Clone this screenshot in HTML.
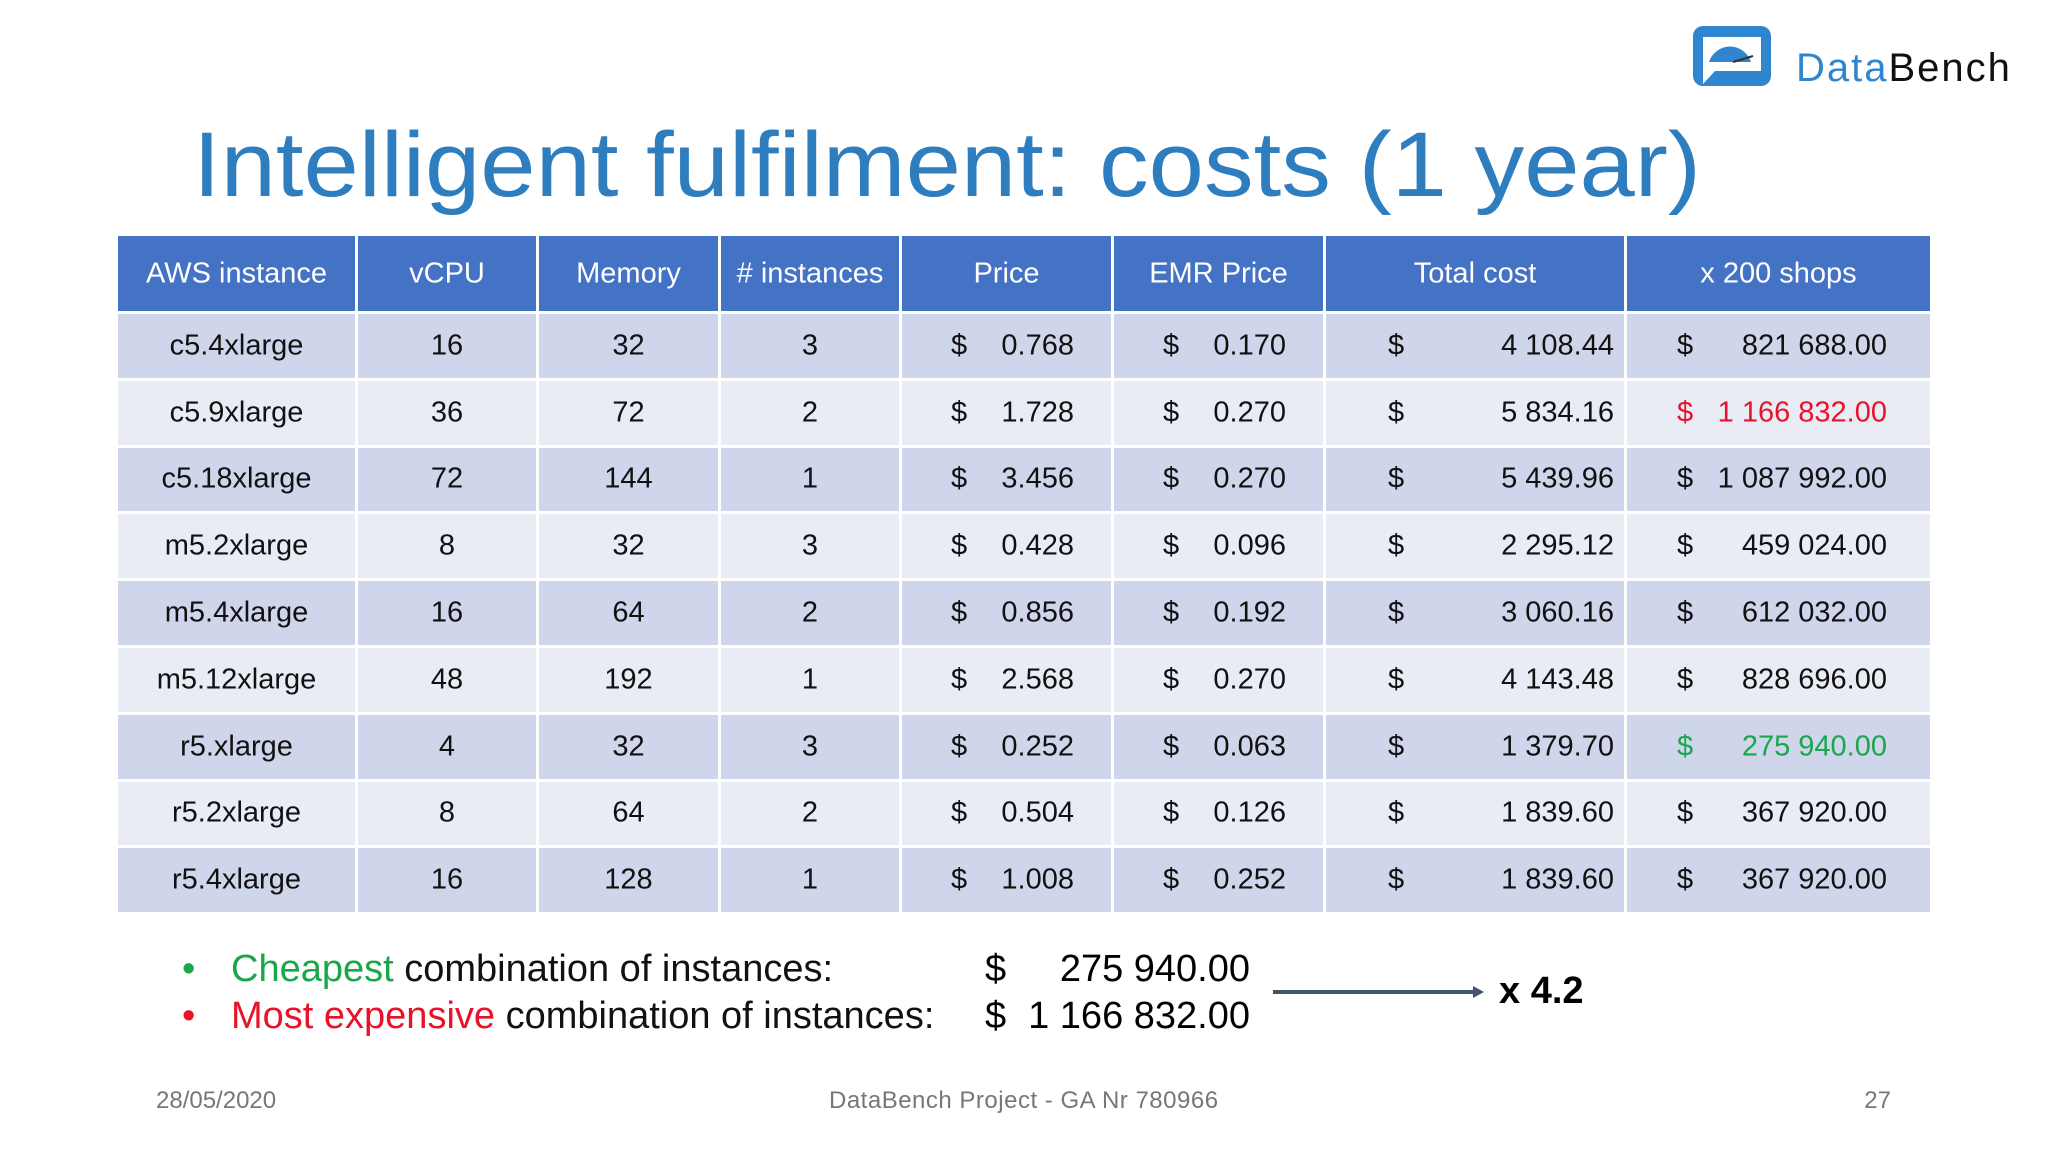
<!DOCTYPE html>
<html><head><meta charset="utf-8">
<style>
body{margin:0;width:2048px;height:1152px;background:#fff;position:relative;overflow:hidden;font-family:"Liberation Sans",sans-serif;}
.abs{position:absolute;white-space:nowrap;}
.cell{position:absolute;box-sizing:border-box;font-size:29px;color:#111;line-height:1;}
.cell span{position:absolute;top:50%;transform:translateY(-50%);}
</style></head>
<body>
<div class="abs" style="left:1693px;top:26px;width:80px;height:60px;">
<svg width="80" height="60" viewBox="0 0 80 60"><rect x="0" y="0" width="78" height="60" rx="10" fill="#2f86cf"/><rect x="10" y="11" width="58" height="34" fill="#fff"/><path d="M16 36 A22 22 0 0 1 58 36 Z" fill="#2f86cf"/><line x1="40" y1="36" x2="60" y2="30" stroke="#333" stroke-width="2"/><path d="M10 45 L10 58 L22 45 Z" fill="#fff"/></svg>
</div>
<div class="abs" style="left:1796px;top:46px;font-size:40px;letter-spacing:2px;"><span style="color:#2f86cf">Data</span><span style="color:#111">Bench</span></div>
<svg class="abs" style="left:0;top:0" width="2048" height="230"><text x="193" y="196" font-family="Liberation Sans, sans-serif" font-size="92" fill="#2e7dbf" textLength="1508" lengthAdjust="spacingAndGlyphs">Intelligent fulfilment: costs (1 year)</text></svg>
<div id="table"></div>
<div class="abs" style="left:182px;top:948px;font-size:38px;color:#111;"><span style="color:#1aa64a">•</span><span style="position:absolute;left:49px;"><span style="color:#1aa64a">Cheapest</span> combination of instances:</span></div>
<div class="abs" style="left:182px;top:995px;font-size:38px;color:#111;"><span style="color:#e8132a">•</span><span style="position:absolute;left:49px;"><span style="color:#e8132a">Most expensive</span> combination of instances:</span></div>
<div class="abs" style="left:985px;top:948px;font-size:38px;">$</div>
<div class="abs" style="right:798px;top:948px;font-size:38px;">275 940.00</div>
<div class="abs" style="left:985px;top:995px;font-size:38px;">$</div>
<div class="abs" style="right:798px;top:995px;font-size:38px;">1 166 832.00</div>
<svg class="abs" style="left:1270px;top:980px" width="220" height="24"><line x1="3" y1="12" x2="205" y2="12" stroke="#44546a" stroke-width="4"/><path d="M203 6 L214 12 L203 18 Z" fill="#44546a"/></svg>
<div class="abs" style="left:1499px;top:970px;font-size:38px;font-weight:bold;">x 4.2</div>
<div class="abs" style="left:156px;top:1087px;font-size:24px;color:#777;">28/05/2020</div>
<div class="abs" style="left:829px;top:1087px;font-size:24px;color:#777;letter-spacing:0.5px;">DataBench Project - GA Nr 780966</div>
<div class="abs" style="right:157px;top:1087px;font-size:24px;color:#777;">27</div>
<script>
const headers=["AWS instance","vCPU","Memory","# instances","Price","EMR Price","Total cost","x 200 shops"];
const instances=["c5.4xlarge","c5.9xlarge","c5.18xlarge","m5.2xlarge","m5.4xlarge","m5.12xlarge","r5.xlarge","r5.2xlarge","r5.4xlarge"];
const vcpu=["16","36","72","8","16","48","4","8","16"];
const memory=["32","72","144","32","64","192","32","64","128"];
const counts=["3","2","1","3","2","1","3","2","1"];
const price=["0.768","1.728","3.456","0.428","0.856","2.568","0.252","0.504","1.008"];
const emr=["0.170","0.270","0.270","0.096","0.192","0.270","0.063","0.126","0.252"];
const total=["4 108.44","5 834.16","5 439.96","2 295.12","3 060.16","4 143.48","1 379.70","1 839.60","1 839.60"];
const shops=["821 688.00","1 166 832.00","1 087 992.00","459 024.00","612 032.00","828 696.00","275 940.00","367 920.00","367 920.00"];
const rowColor=["","#e8132a","","","","","#1aa64a","",""];
const colX=[118,358,539,721,902,1114,1326,1627,1933];
const t=document.getElementById('table');
function mk(x,y,w,h,bg){const d=document.createElement('div');d.className='cell';d.style.cssText+=`left:${x}px;top:${y}px;width:${w}px;height:${h}px;background:${bg};`;t.appendChild(d);return d;}
headers.forEach((h,i)=>{
 const d=mk(colX[i],236,colX[i+1]-colX[i]-3,75,'#4472c4');
 
 
 d.innerHTML=`<span style="left:0;right:0;text-align:center;color:#fff">${h}</span>`;
});
const rh=66.8;
instances.forEach((n,r)=>{
 const y=314+r*rh, h=rh-3, bg=r%2?'#e9ebf5':'#cfd5ea';
 const cols=[n,vcpu[r],memory[r],counts[r]];
 cols.forEach((v,i)=>{
  const d=mk(colX[i],y,colX[i+1]-colX[i]-3,h,bg);
  
  
  d.innerHTML=`<span style="left:0;right:0;text-align:center">${v}</span>`;
 });
 const money=[[price[r],49,37,''],[emr[r],49,37,''],[total[r],62,10,''],[shops[r],50,43,rowColor[r]]];
 money.forEach((m,k)=>{
  const i=4+k;
  const d=mk(colX[i],y,colX[i+1]-colX[i]-3,h,bg);
  
  
  const c=m[3]||'#111';
  d.innerHTML=`<span style="left:${m[1]}px;color:${c}">$</span><span style="right:${m[2]}px;color:${c}">${m[0]}</span>`;
 });
});
</script>
</body></html>
